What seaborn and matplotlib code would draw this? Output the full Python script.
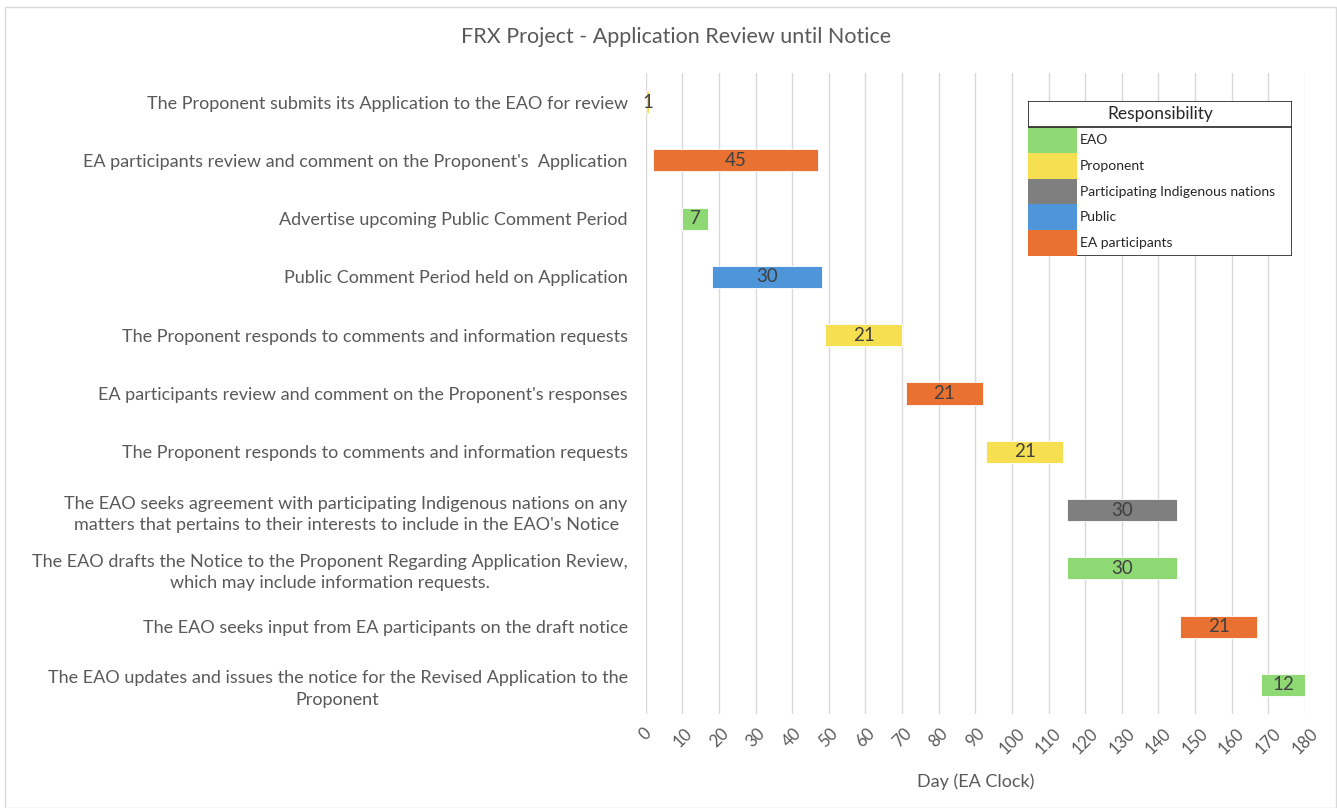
import matplotlib
matplotlib.use("Agg")
import matplotlib.pyplot as plt
from matplotlib.patches import Rectangle
import pandas as pd
import seaborn as sns

tasks = [
    "The Proponent submits its Application to the EAO for review",
    "EA participants review and comment on the Proponent's  Application",
    "Advertise upcoming Public Comment Period",
    "Public Comment Period held on Application",
    "The Proponent responds to comments and information requests",
    "EA participants review and comment on the Proponent's responses",
    "The Proponent responds to comments and information requests",
    "The EAO seeks agreement with participating Indigenous nations on any\n"
    "matters that pertains to their interests to include in the EAO's Notice",
    "The EAO drafts the Notice to the Proponent Regarding Application Review,\n"
    "which may include information requests.",
    "The EAO seeks input from EA participants on the draft notice",
    "The EAO updates and issues the notice for the Revised Application to the\n"
    "Proponent",
]
start_day = [0, 2, 10, 18, 49, 71, 93, 115, 115, 146, 168]
duration = [1, 45, 7, 30, 21, 21, 21, 30, 30, 21, 12]
responsibility = [
    "Proponent", "EA participants", "EAO", "Public", "Proponent",
    "EA participants", "Proponent", "Participating Indigenous nations",
    "EAO", "EA participants", "EAO",
]
groups = ["EAO", "Proponent", "Participating Indigenous nations", "Public", "EA participants"]
group_colors = ["#8ED973", "#F6E052", "#7F7F7F", "#4E95D9", "#E97132"]
x_ticks = list(range(0, 181, 10))


def main():
    sns.set_style("white")
    plt.rcParams["font.family"] = ["Lato", "DejaVu Sans"]
    text_color = "#595959"

    df = pd.DataFrame(
        {"task": tasks, "start": start_day, "days": duration, "who": responsibility}
    )
    palette = dict(zip(groups, group_colors))

    fig = plt.figure(figsize=(13.37, 8.08), dpi=100)
    ax = fig.add_axes([0.483, 0.1163, 0.493, 0.7934])

    pos = list(range(len(df)))
    bars = ax.barh(
        pos,
        df["days"],
        left=df["start"],
        height=0.38,
        color=df["who"].map(palette),
        edgecolor="white",
        linewidth=0.6,
        zorder=3,
    )
    ax.bar_label(bars, labels=df["days"].astype(str), label_type="center",
                 fontsize=13.5, color="#404040", zorder=4)

    ax.set_ylim(len(df) - 0.5, -0.5)
    ax.set_xlim(0, 180)
    ax.set_yticks(pos)
    ax.set_yticklabels(df["task"], fontsize=13, color=text_color,
                       multialignment="center", linespacing=1.4)
    ax.set_xticks(x_ticks)
    ax.set_xticklabels([str(t) for t in x_ticks], rotation=45, fontsize=12,
                       color=text_color, ha="center", va="top")
    ax.tick_params(axis="y", length=0, pad=13)
    ax.tick_params(axis="x", length=0, pad=8)
    ax.grid(axis="x", color="#D9D9D9", linewidth=1, zorder=0)
    ax.grid(axis="y", visible=False)
    for s in ax.spines.values():
        s.set_visible(False)
    ax.set_xlabel("Day (EA Clock)", fontsize=13, color=text_color, labelpad=12)

    fig.text(0.506, 0.954, "FRX Project - Application Review until Notice",
             fontsize=15.5, color=text_color, ha="center", va="center")

    # outer chart border
    fig.patches.append(Rectangle((0.004, 0.0), 0.995, 0.991, transform=fig.transFigure,
                                 fill=False, edgecolor="#D9D9D9", linewidth=1))

    # table-style legend
    W, H = 1337, 808
    lx0, lx1, ly0, ly1 = 1028, 1292, 101, 256
    lax = fig.add_axes([lx0 / W, 1 - ly1 / H, (lx1 - lx0) / W, (ly1 - ly0) / H])
    lax.set_xlim(lx0, lx1)
    lax.set_ylim(ly1, ly0)
    lax.axis("off")
    lax.add_patch(Rectangle((lx0, ly0), lx1 - lx0, ly1 - ly0, facecolor="white",
                            edgecolor="#262626", linewidth=1.2, zorder=1))
    head = 127
    lax.plot([lx0, lx1], [head, head], color="#262626", linewidth=1.2, zorder=3)
    lax.text((lx0 + lx1) / 2, (ly0 + head) / 2, "Responsibility", ha="center",
             va="center", fontsize=12.5, color="#262626")
    row_h = (ly1 - head) / len(groups)
    for i, (g, c) in enumerate(zip(groups, group_colors)):
        y0 = head + i * row_h
        lax.add_patch(Rectangle((lx0, y0), 49, row_h, facecolor=c, edgecolor="none",
                                zorder=2))
        lax.text(lx0 + 52, y0 + row_h / 2, g, ha="left", va="center",
                 fontsize=10, color="#262626")

    fig.savefig("out.png", dpi=100, facecolor="white")
    plt.close(fig)


if __name__ == "__main__":
    main()
